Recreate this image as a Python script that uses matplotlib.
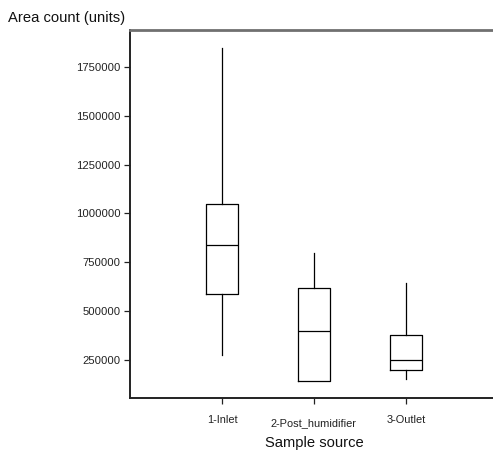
import matplotlib
matplotlib.use("Agg")
import matplotlib.pyplot as plt
import matplotlib.transforms as mtransforms

plt.rcParams['font.family'] = ['Liberation Sans', 'DejaVu Sans']

# Box plot summary per sample source
categorias = ['1-Inlet', '2-Post_humidifier', '3-Outlet']
minimo = [275000, 143000, 151500]
q1 = [587000, 143000, 200500]
mediana = [840000, 398000, 250000]
q3 = [1049000, 616000, 376000]
maximo = [1848000, 799000, 644000]
yticks = [250000, 500000, 750000, 1000000, 1250000, 1500000, 1750000]

stats = []
for i in range(len(categorias)):
    stats.append({'label': categorias[i], 'whislo': minimo[i], 'q1': q1[i],
                  'med': mediana[i], 'q3': q3[i], 'whishi': maximo[i]})

fig = plt.figure(figsize=(4.93, 4.57), dpi=100)
ax = fig.add_axes([0.2637, 0.1291, 0.7464, 0.8063])

props = dict(color='black', linewidth=0.9)
ax.bxp(stats, positions=[1, 2, 3], widths=0.34, showfliers=False, showcaps=False,
       boxprops=props, whiskerprops=props, medianprops=props)

ax.set_xlim(0, 4)
ax.set_ylim(55800, 1940700)
ax.set_yticks(yticks)
ax.set_yticklabels([str(v) for v in yticks], fontsize=8.1, color='#222222')
ax.set_xticks([1, 2, 3])
ax.set_xticklabels(categorias, fontsize=7.9, color='#222222')
ax.tick_params(axis='both', length=4, width=0.9, color='#222222')
ax.tick_params(axis='x', pad=8)
ax.tick_params(axis='y', pad=3)

# segunda etiqueta algo mas abajo, como en el original
lbl = ax.get_xticklabels()[1]
lbl.set_transform(lbl.get_transform() + mtransforms.ScaledTranslation(0, -3 / 100, fig.dpi_scale_trans))

ax.spines['right'].set_visible(False)
ax.spines['top'].set_color('#707070')
ax.spines['top'].set_linewidth(2)
ax.spines['left'].set_linewidth(1.4)
ax.spines['bottom'].set_linewidth(1.4)
ax.spines['left'].set_color('#222222')
ax.spines['bottom'].set_color('#222222')

fig.text(8 / 493, 1 - 18 / 457, 'Area count (units)', fontsize=10.6, va='center', ha='left', color='#111111')
ax.set_xlabel('Sample source', fontsize=10.6, labelpad=6, color='#111111')

fig.savefig('out.png', dpi=100)
